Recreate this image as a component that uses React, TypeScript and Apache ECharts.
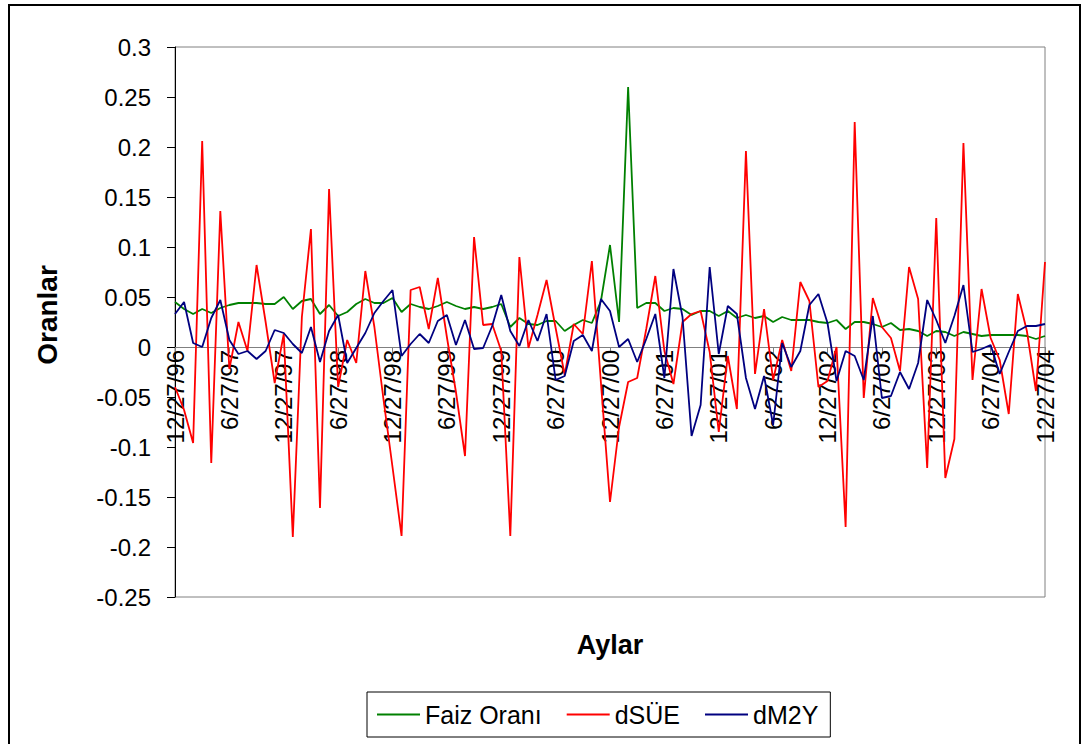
import React, { useEffect, useRef } from "react";
import * as echarts from "echarts";

const months: string[] = (
  "12/27/96 " +
  "1/27/97 2/27/97 3/27/97 4/27/97 5/27/97 6/27/97 7/27/97 8/27/97 9/27/97 10/27/97 11/27/97 12/27/97 " +
  "1/27/98 2/27/98 3/27/98 4/27/98 5/27/98 6/27/98 7/27/98 8/27/98 9/27/98 10/27/98 11/27/98 12/27/98 " +
  "1/27/99 2/27/99 3/27/99 4/27/99 5/27/99 6/27/99 7/27/99 8/27/99 9/27/99 10/27/99 11/27/99 12/27/99 " +
  "1/27/00 2/27/00 3/27/00 4/27/00 5/27/00 6/27/00 7/27/00 8/27/00 9/27/00 10/27/00 11/27/00 12/27/00 " +
  "1/27/01 2/27/01 3/27/01 4/27/01 5/27/01 6/27/01 7/27/01 8/27/01 9/27/01 10/27/01 11/27/01 12/27/01 " +
  "1/27/02 2/27/02 3/27/02 4/27/02 5/27/02 6/27/02 7/27/02 8/27/02 9/27/02 10/27/02 11/27/02 12/27/02 " +
  "1/27/03 2/27/03 3/27/03 4/27/03 5/27/03 6/27/03 7/27/03 8/27/03 9/27/03 10/27/03 11/27/03 12/27/03 " +
  "1/27/04 2/27/04 3/27/04 4/27/04 5/27/04 6/27/04 7/27/04 8/27/04 9/27/04 10/27/04 11/27/04 12/27/04"
).split(" ");

const faizOrani: number[] = [
  0.045, 0.038, 0.033, 0.038, 0.034, 0.039, 0.042, 0.044, 0.044, 0.044, 0.043, 0.043,
  0.050, 0.038, 0.046, 0.048, 0.033, 0.042, 0.031, 0.035, 0.043, 0.048, 0.044, 0.044,
  0.049, 0.035, 0.043, 0.040, 0.038, 0.041, 0.045, 0.041, 0.038, 0.040, 0.038, 0.040,
  0.043, 0.020, 0.029, 0.023, 0.022, 0.026, 0.026, 0.016, 0.022, 0.027, 0.024, 0.046,
  0.102, 0.025, 0.260, 0.039, 0.044, 0.044, 0.036, 0.039, 0.038, 0.032, 0.036, 0.036,
  0.031, 0.036, 0.029, 0.032, 0.029, 0.031, 0.025, 0.030, 0.027, 0.027, 0.027, 0.025,
  0.024, 0.027, 0.018, 0.025, 0.025, 0.023, 0.020, 0.024, 0.017, 0.018, 0.016, 0.011,
  0.016, 0.015, 0.011, 0.015, 0.013, 0.011, 0.012, 0.012, 0.012, 0.012, 0.011, 0.008,
  0.011,
];

const dSUE: number[] = [
  -0.040, -0.063, -0.096, 0.206, -0.116, 0.136, -0.022, 0.025, -0.004, 0.082, 0.025, -0.036,
  0.013, -0.190, 0.030, 0.118, -0.161, 0.158, -0.040, 0.007, -0.016, 0.076, 0.020, -0.052,
  -0.120, -0.189, 0.057, 0.060, 0.018, 0.069, 0.010, -0.045, -0.109, 0.110, 0.022, 0.023,
  -0.004, -0.189, 0.090, -0.001, 0.032, 0.067, 0.019, -0.028, 0.023, 0.013, 0.086, -0.036,
  -0.155, -0.080, -0.035, -0.031, 0.018, 0.071, -0.004, -0.037, 0.025, 0.033, 0.036, -0.005,
  -0.085, -0.009, -0.062, 0.196, -0.027, 0.038, -0.033, 0.007, -0.024, 0.065, 0.046, -0.040,
  -0.034, 0.000, -0.180, 0.225, -0.051, 0.049, 0.020, 0.009, -0.024, 0.080, 0.048, -0.121,
  0.129, -0.131, -0.092, 0.204, -0.033, 0.058, 0.009, -0.013, -0.067, 0.053, 0.016, -0.044,
  0.085,
];

const dM2Y: number[] = [
  0.033, 0.045, 0.004, 0.000, 0.029, 0.047, 0.007, -0.007, -0.004, -0.012, -0.004, 0.017,
  0.014, 0.003, -0.006, 0.020, -0.015, 0.016, 0.032, -0.016, -0.001, 0.014, 0.034, 0.046,
  0.057, -0.009, 0.003, 0.013, 0.004, 0.026, 0.032, 0.002, 0.027, -0.002, -0.001, 0.021,
  0.052, 0.016, 0.001, 0.027, 0.006, 0.033, -0.033, -0.029, 0.006, 0.012, -0.004, 0.048,
  0.036, 0.000, 0.008, -0.015, 0.008, 0.033, -0.031, 0.078, 0.030, -0.089, -0.058, 0.080,
  -0.007, 0.041, 0.033, -0.031, -0.062, -0.029, -0.078, 0.004, -0.020, -0.004, 0.042, 0.053,
  0.024, -0.034, -0.004, -0.009, -0.033, 0.031, -0.051, -0.049, -0.025, -0.042, -0.016, 0.047,
  0.027, 0.004, 0.031, 0.062, -0.005, -0.002, 0.002, -0.027, -0.005, 0.016, 0.021, 0.021,
  0.023,
];

const seriesNames = ["Faiz Oranı", "dSÜE", "dM2Y"];
const seriesColors = ["#008000", "#FF0000", "#000080"];
const FONT = "'Liberation Sans', Arial, sans-serif";

export default function App() {
  const ref = useRef<HTMLDivElement>(null);

  useEffect(() => {
    if (!ref.current) return;
    const chart = echarts.init(ref.current, undefined, { renderer: "svg" });
    const data = [faizOrani, dSUE, dM2Y];
    chart.setOption({
      animation: false,
      backgroundColor: "#ffffff",
      textStyle: { fontFamily: FONT },
      grid: {
        left: 175,
        right: 43,
        top: 47,
        bottom: 147,
        show: true,
        borderColor: "#808080",
        borderWidth: 1,
        backgroundColor: "transparent",
      },
      xAxis: {
        type: "category",
        data: months,
        boundaryGap: false,
        position: "bottom",
        offset: -250,
        axisLine: { onZero: false, lineStyle: { color: "#808080", width: 1 } },
        axisTick: { show: true, interval: 5, length: 6, lineStyle: { color: "#808080" } },
        axisLabel: {
          interval: 5,
          rotate: 90,
          fontSize: 24,
          color: "#000",
          fontFamily: FONT,
          margin: 3,
        },
        splitLine: { show: false },
      },
      yAxis: {
        type: "value",
        min: -0.25,
        max: 0.3,
        interval: 0.05,
        axisLine: { show: true, lineStyle: { color: "#000", width: 1 } },
        axisTick: { show: true, length: 8, lineStyle: { color: "#000" } },
        axisLabel: {
          fontSize: 24,
          color: "#000",
          fontFamily: FONT,
          margin: 24,
          formatter: (v: number) => String(parseFloat(v.toFixed(2))),
        },
        splitLine: { show: false },
      },
      legend: {
        left: 367,
        top: 692,
        orient: "horizontal",
        itemWidth: 43,
        itemHeight: 2,
        itemGap: 25,
        icon: "rect",
        padding: [10, 12, 10, 10],
        borderColor: "#000",
        borderWidth: 1,
        textStyle: { fontSize: 25, color: "#000", fontFamily: FONT },
        data: seriesNames,
      },
      graphic: [
        {
          type: "rect",
          shape: { x: 9, y: 5, width: 1071, height: 760 },
          style: { fill: "none", stroke: "#000", lineWidth: 2 },
          silent: true,
        },
        {
          type: "text",
          x: 47,
          y: 315,
          rotation: Math.PI / 2,
          style: {
            text: "Oranlar",
            font: `bold 28px ${FONT}`,
            fill: "#000",
            textAlign: "center",
            textVerticalAlign: "middle",
          },
        },
        {
          type: "text",
          x: 610,
          y: 645,
          style: {
            text: "Aylar",
            font: `bold 27px ${FONT}`,
            fill: "#000",
            textAlign: "center",
            textVerticalAlign: "middle",
          },
        },
      ],
      series: seriesNames.map((name, k) => ({
        name,
        type: "line",
        data: data[k],
        symbol: "none",
        color: seriesColors[k],
        lineStyle: { color: seriesColors[k], width: 1.8 },
        z: 3 + k,
      })),
    });
    return () => chart.dispose();
  }, []);

  return (
    <div
      ref={ref}
      style={{ position: "fixed", left: 0, top: 0, width: 1088, height: 744 }}
    />
  );
}
